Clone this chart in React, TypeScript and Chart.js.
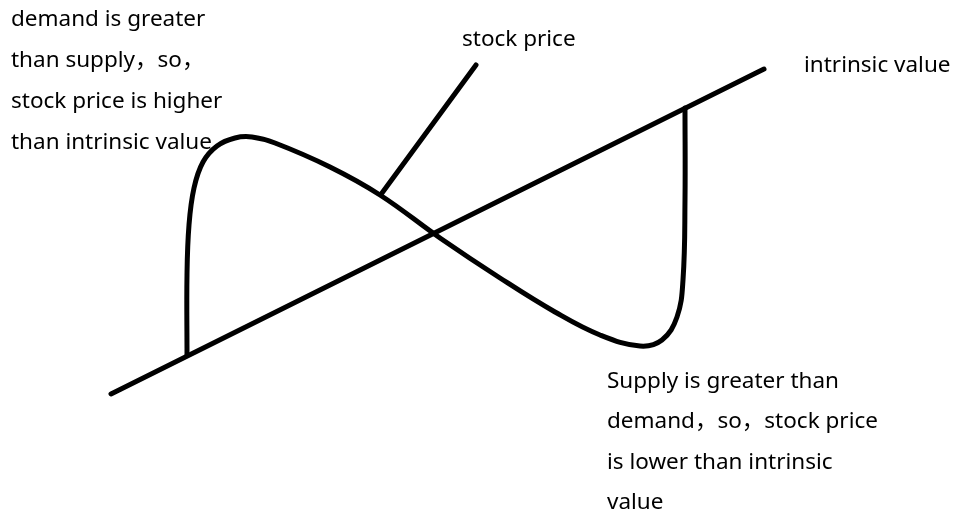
import React, { useEffect, useRef } from "react";
import { Chart, registerables } from "chart.js";

Chart.register(...registerables);

// Intrinsic value line (diagram units, y grows downward)
const intrinsicX = [111, 764];
const intrinsicY = [394, 69];

// Stock price curve
const priceX = [187, 187, 189, 194, 203, 217, 235, 252, 275, 330, 380, 440, 500, 555, 600, 640, 662, 677, 683, 685, 685];
const priceY = [355, 275, 225, 188, 162, 146, 138, 137, 143, 167, 195, 238, 278, 312, 335, 346, 340, 317, 280, 200, 108];

// Pointer from "stock price" label to the curve
const pointerX = [382, 476];
const pointerY = [193, 65];

// Annotation texts
const leftNote = ["demand is greater", "than supply，so，", "stock price is higher", "than intrinsic value"];
const rightNote = ["Supply is greater than", "demand，so，stock price", "is lower than intrinsic", "value"];
const priceLabel = "stock price";
const valueLabel = "intrinsic value";

const toPts = (xs: number[], ys: number[]) => xs.map((x, i) => ({ x, y: ys[i] }));

export default function App() {
  const ref = useRef<HTMLCanvasElement | null>(null);
  useEffect(() => {
    document.body.style.margin = "0";
    const canvas = ref.current;
    if (!canvas) return;
    const textPlugin = {
      id: "notes",
      afterDraw(chart: any) {
        const ctx = chart.ctx;
        const xs = chart.scales.x;
        const ys = chart.scales.y;
        ctx.save();
        ctx.fillStyle = "#000";
        ctx.font = '22.5px "Noto Sans", "Noto Sans CJK SC", sans-serif';
        ctx.textAlign = "left";
        ctx.textBaseline = "alphabetic";
        const block = (lines: string[], x: number, y0: number, step: number) => {
          lines.forEach((t, i) => {
            ctx.fillText(t, xs.getPixelForValue(x), ys.getPixelForValue(y0 + i * step));
          });
        };
        block(leftNote, 11, 26, 41);
        block(rightNote, 607, 388, 40.3);
        block([priceLabel], 462, 46, 0);
        block([valueLabel], 804, 72, 0);
        ctx.restore();
      },
    };
    const common = {
      showLine: true,
      borderColor: "#000",
      backgroundColor: "#000",
      borderWidth: 5,
      pointRadius: 0,
      borderCapStyle: "round" as const,
      borderJoinStyle: "round" as const,
      fill: false,
    };
    const chart = new Chart(canvas, {
      type: "scatter",
      data: {
        datasets: [
          { ...common, label: "intrinsic value", data: toPts(intrinsicX, intrinsicY), tension: 0 },
          { ...common, label: "stock price", data: toPts(priceX, priceY), tension: 0.4 },
          { ...common, label: "pointer", data: toPts(pointerX, pointerY), tension: 0 },
        ],
      },
      options: {
        animation: false,
        responsive: true,
        maintainAspectRatio: false,
        events: [],
        layout: { padding: 0 },
        plugins: { legend: { display: false }, tooltip: { enabled: false }, title: { display: false } },
        scales: {
          x: { type: "linear", min: 0, max: 956, display: false },
          y: { type: "linear", min: 0, max: 513, reverse: true, display: false },
        },
      },
      plugins: [textPlugin],
    });
    return () => chart.destroy();
  }, []);
  return (
    <div style={{ position: "relative", width: 956, height: 513, background: "#fff" }}>
      <canvas ref={ref} />
    </div>
  );
}
